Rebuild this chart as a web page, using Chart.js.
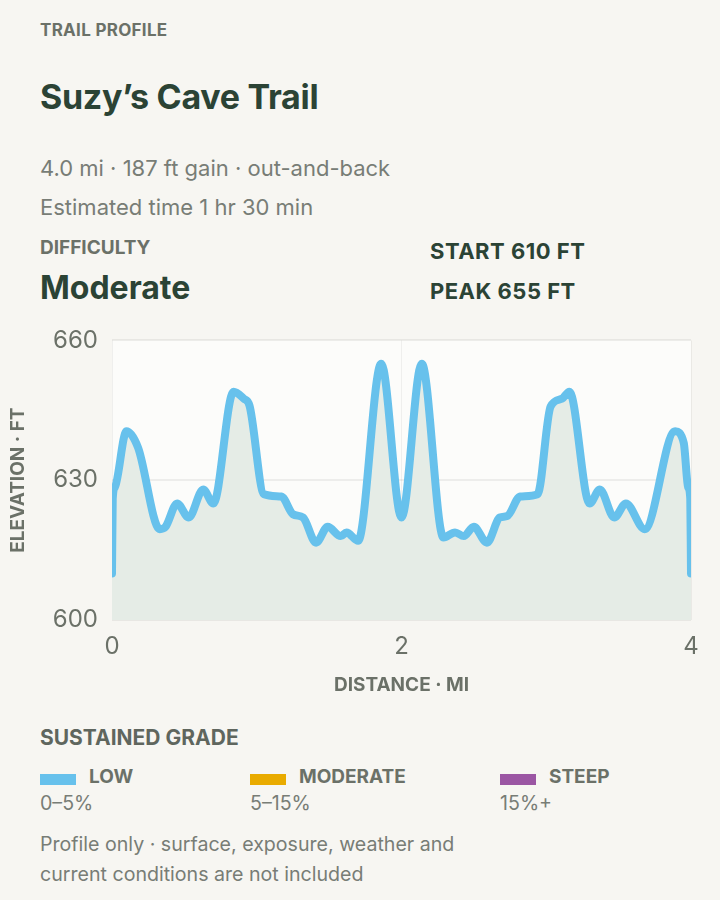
<!DOCTYPE html>
<html lang="en">
<head>
<meta charset="UTF-8">
<title>Trail Profile</title>
<script src="https://cdn.jsdelivr.net/npm/chart.js"></script>
<style>
  html, body { margin: 0; padding: 0; }
  body { width: 720px; height: 900px; background: #f7f6f2; font-family: Inter, "Noto Sans", sans-serif; position: relative; overflow: hidden; }
  .abs { position: absolute; white-space: nowrap; line-height: 1; }
  .eyebrow { font-weight: 700; font-size: 17px; letter-spacing: 0.3px; color: #6b7168; }
  .title { font-weight: 700; font-size: 34px; letter-spacing: -0.3px; color: #2b4335; }
  .meta { font-size: 22px; color: #787d76; }
  .big { font-weight: 700; font-size: 32px; color: #2b4335; }
  .stat { font-weight: 700; font-size: 22px; letter-spacing: 0.5px; color: #2b4335; }
  .chart-wrap { position: absolute; left: 0; top: 312px; width: 720px; height: 388px; }
  .swatch { position: absolute; width: 36px; height: 11px; }
  .lab { font-weight: 700; font-size: 19px; color: #6b7168; }
  .sub { font-size: 19.6px; color: #787d76; }
</style>
</head>
<body>
<div class="abs eyebrow" style="left:40px; top:22px;">TRAIL PROFILE</div>
<div class="abs title" style="left:40px; top:80px;">Suzy’s Cave Trail</div>
<div class="abs meta" style="left:40px; top:157px;">4.0 mi · 187 ft gain · out-and-back</div>
<div class="abs meta" style="left:40px; top:196px;">Estimated time 1 hr 30 min</div>
<div class="abs eyebrow" style="left:40px; top:238px; font-size:19px; letter-spacing:0;">DIFFICULTY</div>
<div class="abs big" style="left:40px; top:272px;">Moderate</div>
<div class="abs stat" style="left:430px; top:240px;">START 610 FT</div>
<div class="abs stat" style="left:430px; top:280px;">PEAK 655 FT</div>

<div class="chart-wrap"><canvas id="profile" width="720" height="388"></canvas></div>

<div class="abs lab" style="left:40px; top:727px; font-size:21px; color:#5f665e;">SUSTAINED GRADE</div>
<div class="swatch" style="left:40px; top:774px; background:#67c1ec;"></div>
<div class="abs lab" style="left:89px; top:767px;">LOW</div>
<div class="abs sub" style="left:40px; top:794px;">0–5%</div>
<div class="swatch" style="left:250px; top:774px; background:#e9ab00;"></div>
<div class="abs lab" style="left:299px; top:767px;">MODERATE</div>
<div class="abs sub" style="left:250px; top:794px;">5–15%</div>
<div class="swatch" style="left:500px; top:774px; background:#9b56a3;"></div>
<div class="abs lab" style="left:549px; top:767px;">STEEP</div>
<div class="abs sub" style="left:500px; top:794px;">15%+</div>
<div class="abs sub" style="left:40px; top:835px;">Profile only · surface, exposure, weather and</div>
<div class="abs sub" style="left:40px; top:865px;">current conditions are not included</div>

<script>
// distance along the trail (mi) and elevation (ft)
const distanceMi = [0.00, 0.005, 0.02, 0.10, 0.18, 0.33, 0.37, 0.45, 0.53, 0.63, 0.70, 0.84, 0.91, 0.95, 1.05, 1.17, 1.25, 1.32, 1.41, 1.49, 1.58, 1.62, 1.70, 1.86, 2.00,
                    2.14, 2.29, 2.37, 2.43, 2.50, 2.59, 2.68, 2.73, 2.82, 2.94, 3.03, 3.11, 3.16, 3.30, 3.37, 3.47, 3.55, 3.68, 3.89, 3.95, 3.98, 3.995, 4.00];
const elevationFt = [610, 626, 628.5, 640.5, 637, 619.5, 620, 625, 622, 628, 625, 649, 647.5, 646, 627, 626.5, 622.7, 622, 616.6, 620, 618, 618.8, 617, 655, 622,
                     655, 617.7, 618.8, 618, 620, 616.6, 622, 622.3, 626.5, 627, 645.8, 647.5, 649, 625, 628, 622, 625, 619.5, 640.5, 638, 628.5, 626, 610];
const xTicks = [0, 2, 4];
const yTicks = [600, 630, 660];

const points = distanceMi.map((d, i) => ({ x: d, y: elevationFt[i] }));

const plotBackground = {
    id: 'plotBackground',
    beforeDraw(chart) {
        const { ctx, chartArea } = chart;
        ctx.save();
        ctx.fillStyle = '#fcfcfa';
        ctx.fillRect(chartArea.left, chartArea.top, chartArea.right - chartArea.left, chartArea.bottom - chartArea.top);
        ctx.restore();
    }
};

const axisColor = '#6b7168';

new Chart(document.getElementById('profile'), {
    type: 'line',
    data: {
        datasets: [{
            data: points,
            borderColor: '#67c1ec',
            borderWidth: 8,
            backgroundColor: '#e5ece6',
            fill: 'start',
            pointRadius: 0,
            cubicInterpolationMode: 'monotone',
            borderCapStyle: 'round',
            borderJoinStyle: 'round'
        }]
    },
    options: {
        responsive: false,
        animation: false,
        layout: { padding: { top: 20, right: 29, left: 0, bottom: 0 } },
        plugins: { legend: { display: false }, tooltip: { enabled: false } },
        scales: {
            x: {
                type: 'linear',
                min: 0,
                max: 4,
                afterBuildTicks: scale => { scale.ticks = xTicks.map(v => ({ value: v })); },
                afterFit: scale => { scale.height = 80; },
                grid: { color: 'rgba(0,0,0,0.05)', drawTicks: false },
                border: { display: false },
                ticks: { color: axisColor, font: { family: 'Inter', size: 24 }, padding: 12, maxRotation: 0 },
                title: { display: true, text: 'DISTANCE · MI', color: axisColor, font: { family: 'Inter', size: 19, weight: 'bold' }, padding: { top: 0, bottom: 3 } }
            },
            y: {
                min: 600,
                max: 660,
                afterBuildTicks: scale => { scale.ticks = yTicks.map(v => ({ value: v })); },
                afterFit: scale => { scale.width = 112; },
                grid: { color: 'rgba(0,0,0,0.06)', drawTicks: false, lineWidth: 2 },
                border: { display: false },
                ticks: { color: axisColor, font: { family: 'Inter', size: 24 }, padding: 14 },
                title: { display: true, text: 'ELEVATION · FT', color: axisColor, font: { family: 'Inter', size: 19, weight: 'bold' }, padding: { top: 7, bottom: 0 } }
            }
        }
    },
    plugins: [plotBackground]
});
</script>
</body>
</html>
